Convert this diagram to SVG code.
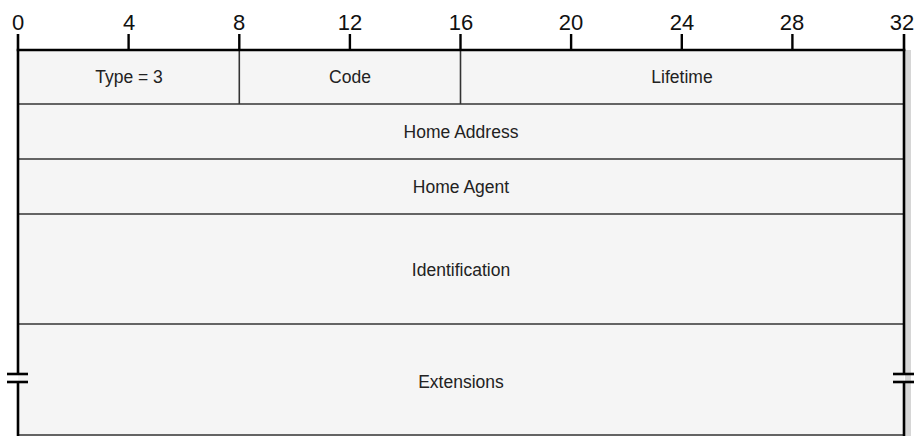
<svg xmlns="http://www.w3.org/2000/svg" width="921" height="436" viewBox="0 0 921 436">
<style>
.num{font-family:"Liberation Sans",Arial,sans-serif;font-size:22px;fill:#111;text-anchor:middle}
.lbl{font-family:"Liberation Sans",Arial,sans-serif;font-size:17.5px;fill:#222;text-anchor:middle}
.div{stroke:#333;stroke-width:1.6;fill:none}
.out{stroke:#000;stroke-width:2.6;fill:none}
.tick{stroke:#000;stroke-width:2.4}
</style>
<rect x="0" y="0" width="921" height="436" fill="#fff"/>
<rect x="905" y="50" width="6" height="386" fill="#d6d6d6"/>
<rect x="18" y="50" width="886" height="386" fill="#f5f5f5"/>
<g id="scale">
<line class="tick" x1="128.6" y1="34" x2="128.6" y2="50"/>
<line class="tick" x1="239.3" y1="34" x2="239.3" y2="50"/>
<line class="tick" x1="349.9" y1="34" x2="349.9" y2="50"/>
<line class="tick" x1="460.5" y1="34" x2="460.5" y2="50"/>
<line class="tick" x1="571.1" y1="34" x2="571.1" y2="50"/>
<line class="tick" x1="681.8" y1="34" x2="681.8" y2="50"/>
<line class="tick" x1="792.4" y1="34" x2="792.4" y2="50"/>
<text class="num" x="18" y="30">0</text>
<text class="num" x="129" y="30">4</text>
<text class="num" x="239" y="30">8</text>
<text class="num" x="350" y="30">12</text>
<text class="num" x="461" y="30">16</text>
<text class="num" x="571" y="30">20</text>
<text class="num" x="682" y="30">24</text>
<text class="num" x="792" y="30">28</text>
<text class="num" x="902" y="30">32</text>
</g>
<g id="connectors">
<line class="div" x1="18" y1="104" x2="904" y2="104"/>
<line class="div" x1="18" y1="159" x2="904" y2="159"/>
<line class="div" x1="18" y1="214" x2="904" y2="214"/>
<line class="div" x1="18" y1="324" x2="904" y2="324"/>
<line class="div" x1="18" y1="435" x2="904" y2="435"/>
<line class="div" x1="239.3" y1="50" x2="239.3" y2="104"/>
<line class="div" x1="460.5" y1="50" x2="460.5" y2="104"/>
<line class="out" x1="16.7" y1="50" x2="905.3" y2="50"/>
<line class="out" x1="18" y1="34" x2="18" y2="374"/>
<line class="out" x1="18" y1="382" x2="18" y2="436"/>
<line class="out" x1="904" y1="34" x2="904" y2="374"/>
<line class="out" x1="904" y1="382" x2="904" y2="436"/>
<line class="out" x1="7" y1="374" x2="28" y2="374"/>
<line class="out" x1="7" y1="382" x2="28" y2="382"/>
<line class="out" x1="893" y1="374" x2="914" y2="374"/>
<line class="out" x1="893" y1="382" x2="914" y2="382"/>
</g>
<g id="type"><text class="lbl" x="129" y="83">Type = 3</text></g>
<g id="code"><text class="lbl" x="350" y="83">Code</text></g>
<g id="lifetime"><text class="lbl" x="682" y="83">Lifetime</text></g>
<g id="home-address"><text class="lbl" x="461" y="138">Home Address</text></g>
<g id="home-agent"><text class="lbl" x="461" y="193">Home Agent</text></g>
<g id="identification"><text class="lbl" x="461" y="276">Identification</text></g>
<g id="extensions"><text class="lbl" x="461" y="388">Extensions</text></g>
</svg>
